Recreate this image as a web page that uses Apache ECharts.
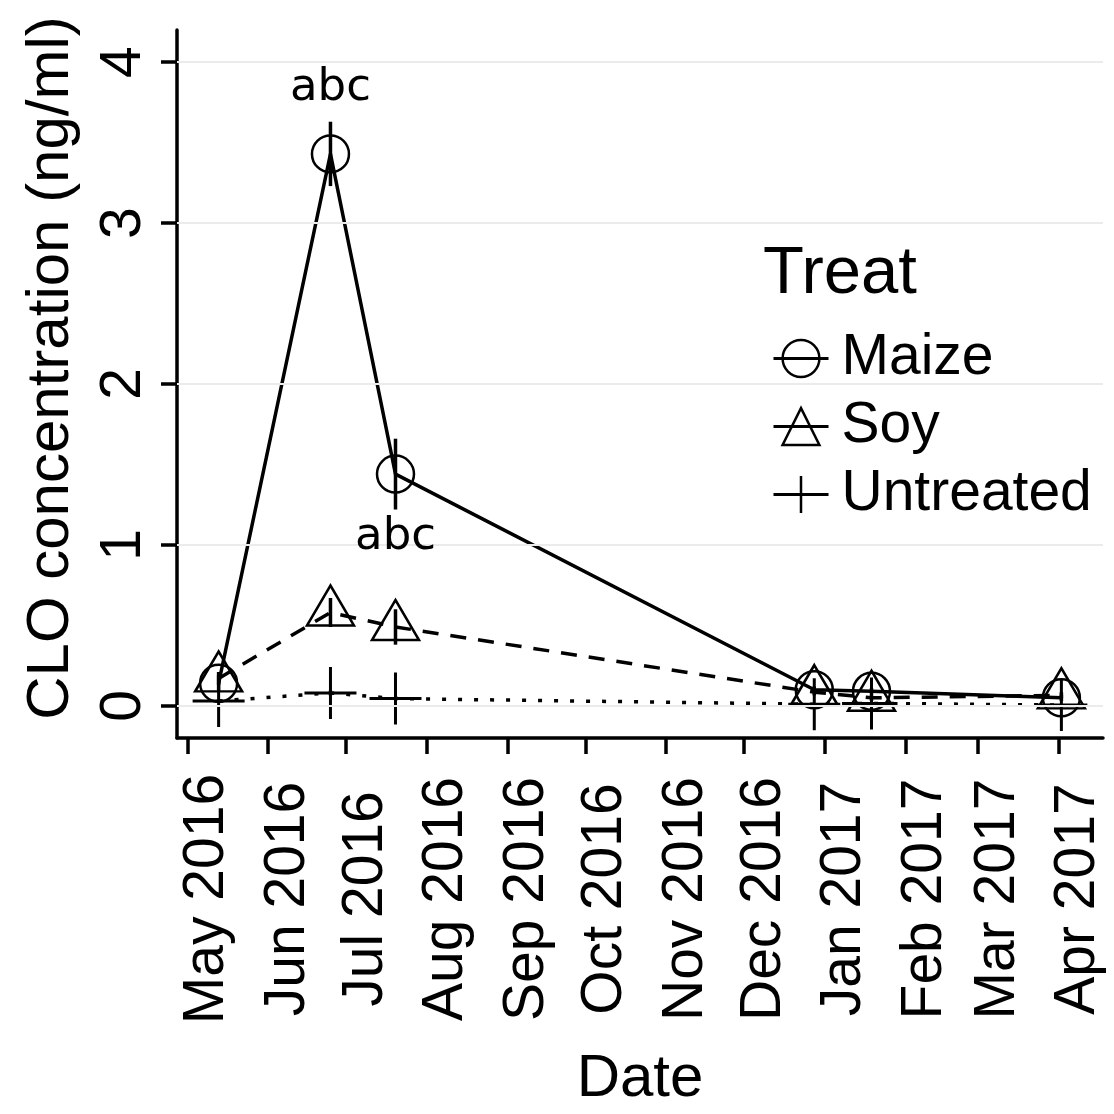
<!DOCTYPE html>
<html>
<head>
<meta charset="utf-8">
<script src="https://cdn.jsdelivr.net/npm/echarts@6/dist/echarts.min.js"></script>
<style>
  html, body { margin: 0; padding: 0; background: #fff; }
  #chart { width: 1114px; height: 1114px; }
</style>
</head>
<body>
<div id="chart"></div>
<script>
// sampling dates and mean CLO concentration (ng/ml) with error
const sampleDates = ['2016-05-13', '2016-06-25', '2016-07-20', '2016-12-28', '2017-01-19', '2017-04-02']
const maize = [0.14, 3.43, 1.44, 0.10, 0.09, 0.05]
const maizeErr = [0.05, 0.20, 0.22, 0.02, 0.02, 0.02]
const soy = [0.17, 0.58, 0.49, 0.085, 0.05, 0.065]
const soyErr = [0.04, 0.09, 0.11, 0.02, 0.02, 0.02]
const untreated = [0.03, 0.08, 0.045, 0.01, 0.015, 0.005]
const untreatedErr = [0.01, 0.015, 0.01, 0.005, 0.005, 0.005]

// significance letters
const letterDates = ['2016-06-25', '2016-07-20']
const letterY = [3.84, 1.05]
const letterText = ['abc', 'abc']

// axis ticks
const monthTicks = ['2016-05-01', '2016-06-01', '2016-07-01', '2016-08-01', '2016-09-01', '2016-10-01',
  '2016-11-01', '2016-12-01', '2017-01-01', '2017-02-01', '2017-03-01', '2017-04-01']
const monthLabels = ['May 2016', 'Jun 2016', 'Jul 2016', 'Aug 2016', 'Sep 2016', 'Oct 2016',
  'Nov 2016', 'Dec 2016', 'Jan 2017', 'Feb 2017', 'Mar 2017', 'Apr 2017']
const yTicks = [0, 1, 2, 3, 4]

// dates as day numbers so the value axis can place them
const toDay = (s) => {
  const [y, m, d] = s.split('-').map(Number)
  return Date.UTC(y, m - 1, d) / 86400000
}
const tickDays = monthTicks.map(toDay)

const pairs = (vals) => vals.map((v, i) => [toDay(sampleDates[i]), v])
const bars = (vals, errs) => vals.map((v, i) => [toDay(sampleDates[i]), v - errs[i], v + errs[i]])

const axisFont = 'Liberation Sans, Arial, sans-serif'
const plusPath = 'path://M10,0L10,20M0,10L20,10'

const pointStyle = { color: 'rgba(0,0,0,0)', borderColor: '#000', borderWidth: 2.5 }

function errorBarSeries(vals, errs) {
  return {
    type: 'custom',
    z: 3,
    silent: true,
    data: bars(vals, errs),
    renderItem: function (params, api) {
      const lo = api.coord([api.value(0), api.value(1)])
      const hi = api.coord([api.value(0), api.value(2)])
      return {
        type: 'line',
        shape: { x1: lo[0], y1: lo[1], x2: hi[0], y2: hi[1] },
        style: { stroke: '#000', lineWidth: 3.5 }
      }
    }
  }
}

const chart = echarts.init(document.getElementById('chart'))

const option = {
  backgroundColor: '#fff',
  animation: false,
  title: {
    text: 'Treat',
    left: 758,
    top: 236,
    textStyle: { fontFamily: axisFont, fontSize: 67, fontWeight: 'normal', color: '#000' }
  },
  legend: {
    orient: 'vertical',
    left: 767,
    top: 325,
    itemWidth: 55,
    itemHeight: 46,
    itemGap: 11,
    selectedMode: false,
    data: ['Maize', 'Soy', 'Untreated'],
    itemStyle: { color: 'rgba(0,0,0,0)', borderColor: '#000', borderWidth: 2.5 },
    lineStyle: { color: '#000', width: 3, type: 'solid' },
    textStyle: { fontFamily: axisFont, fontSize: 57, color: '#000', padding: [0, 0, 0, 8] }
  },
  grid: { left: 177, right: 11, top: 30, bottom: 371 },
  xAxis: {
    type: 'value',
    min: toDay('2016-04-27'),
    max: toDay('2017-04-18'),
    name: 'Date',
    nameLocation: 'middle',
    nameGap: 341,
    nameTextStyle: { fontFamily: axisFont, fontSize: 60, color: '#000', verticalAlign: 'middle' },
    axisLine: { show: true, onZero: false, lineStyle: { color: '#000', width: 3.5 } },
    axisTick: { show: true, length: 16, lineStyle: { color: '#000', width: 3.5 }, customValues: tickDays },
    axisLabel: {
      customValues: tickDays,
      rotate: 90,
      align: 'center',
      verticalAlign: 'top',
      lineHeight: 40,
      margin: 161,
      fontFamily: axisFont,
      fontSize: 57,
      color: '#000',
      formatter: function (val) {
        const i = tickDays.indexOf(val)
        return i >= 0 ? monthLabels[i] : ''
      }
    },
    splitLine: { show: false }
  },
  yAxis: {
    type: 'value',
    min: -0.2,
    max: 4.2,
    name: 'CLO concentration (ng/ml)',
    nameLocation: 'middle',
    nameGap: 126,
    nameTextStyle: { fontFamily: axisFont, fontSize: 60, color: '#000', verticalAlign: 'middle', padding: [0, 0, 0, 32] },
    axisLine: { show: true, onZero: false, lineStyle: { color: '#000', width: 3.5 } },
    axisTick: { show: true, length: 16, lineStyle: { color: '#000', width: 3.5 }, customValues: yTicks },
    axisLabel: {
      customValues: yTicks,
      rotate: 90,
      align: 'center',
      verticalAlign: 'bottom',
      margin: 24,
      fontFamily: axisFont,
      fontSize: 57,
      color: '#000'
    },
    splitLine: { show: false }
  },
  series: [
    {
      // horizontal grid lines
      type: 'line',
      z: 1,
      silent: true,
      data: [],
      markLine: {
        silent: true,
        symbol: 'none',
        label: { show: false },
        lineStyle: { color: '#ebebeb', width: 2, type: 'solid' },
        data: yTicks.map((v) => ({ yAxis: v }))
      }
    },
    {
      name: 'Maize',
      type: 'line',
      z: 4,
      data: pairs(maize),
      symbol: 'circle',
      symbolSize: 37,
      itemStyle: pointStyle,
      lineStyle: { color: '#000', width: 3.5, type: 'solid' }
    },
    {
      name: 'Soy',
      type: 'line',
      z: 4,
      data: pairs(soy),
      symbol: 'triangle',
      symbolSize: [47, 40],
      symbolOffset: [0, -7],
      itemStyle: pointStyle,
      lineStyle: { color: '#000', width: 3.5, type: [16, 12] }
    },
    {
      name: 'Untreated',
      type: 'line',
      z: 4,
      data: pairs(untreated),
      symbol: plusPath,
      symbolSize: 52,
      itemStyle: { color: 'rgba(0,0,0,0)', borderColor: '#000', borderWidth: 3 },
      lineStyle: { color: '#000', width: 3.5, type: [4, 12] }
    },
    errorBarSeries(maize, maizeErr),
    errorBarSeries(soy, soyErr),
    errorBarSeries(untreated, untreatedErr),
    {
      type: 'scatter',
      z: 5,
      silent: true,
      symbolSize: 0,
      itemStyle: { color: '#000', opacity: 1 },
      data: letterDates.map((d, i) => [toDay(d), letterY[i], letterText[i]]),
      label: {
        show: true,
        position: 'inside',
        formatter: (p) => p.data[2],
        fontFamily: 'DejaVu Sans, sans-serif',
        fontSize: 45,
        color: '#000',
        opacity: 1
      }
    }
  ]
}

chart.setOption(option)
</script>
</body>
</html>
